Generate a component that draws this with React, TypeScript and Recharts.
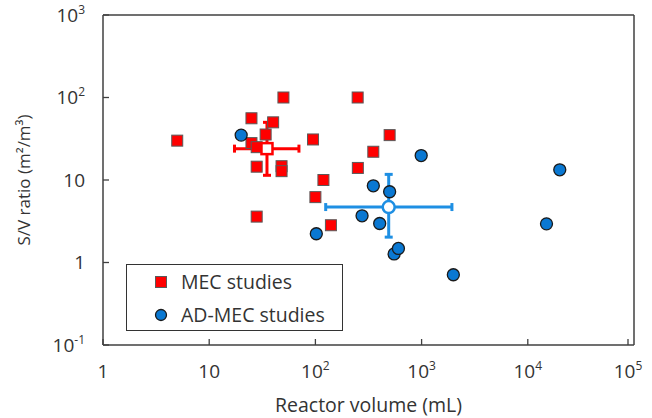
import {
  ScatterChart,
  Scatter,
  XAxis,
  YAxis,
  ErrorBar,
  Legend,
  ReferenceLine,
} from "recharts";

// MEC studies (reactor volume mL, S/V ratio m2/m3)
const mecVolume = [5, 25, 25, 28, 28, 28, 34, 40, 48, 48, 50, 95, 100, 119, 140, 250, 251, 351, 500];
const mecRatio = [30, 56, 28, 25, 14.5, 3.6, 35.6, 50, 14.7, 12.8, 100, 31, 6.2, 10, 2.83, 100, 14, 22, 35];

// AD-MEC studies
const admecVolume = [20, 102, 275, 351, 403, 500, 551, 605, 991, 1990, 15000, 20000];
const admecRatio = [35, 2.23, 3.68, 8.5, 2.97, 7.2, 1.27, 1.48, 19.8, 0.71, 2.94, 13.3];

// means with ranges (min, max)
const mecMean = { x: 35, y: 24, xLow: 17.3, xHigh: 70, yLow: 11.4, yHigh: 50 };
const admecMean = { x: 490, y: 4.7, xLow: 125, xHigh: 1930, yLow: 2.03, yHigh: 11.7 };

const xTicks = [1, 10, 100, 1000, 10000, 100000];
const yTicks = [0.1, 1, 10, 100, 1000];

const FONT = "'Open Sans', sans-serif";
const TEXT = "#333";
const AXIS = "#404040";
const RED = "#FF0000";
const BLUE = "#0A78D2";
const BLUE_BAR = "#1E8FE3";

const mecData = mecVolume.map((x, i) => ({ x, y: mecRatio[i] }));
const admecData = admecVolume.map((x, i) => ({ x, y: admecRatio[i] }));

const toMean = (m) => [
  {
    x: m.x,
    y: m.y,
    xErr: [m.x - m.xLow, m.xHigh - m.x],
    yErr: [m.y - m.yLow, m.yHigh - m.y],
  },
];

const powLabel = (v) => {
  const e = Math.round(Math.log10(v));
  if (e === 0) return { base: "1", sup: "" };
  if (e === 1) return { base: "10", sup: "" };
  return { base: "10", sup: String(e) };
};

const TICK_MARGIN = 18;

const YTick = ({ x, y, payload }) => {
  const { base, sup } = powLabel(payload.value);
  const ax = x + TICK_MARGIN;
  return (
    <g>
      <line x1={ax} x2={ax + 6} y1={y} y2={y} stroke={AXIS} strokeWidth={1.3} />
      <text x={x} y={y} dy={6.5} textAnchor="end" fill={TEXT} fontSize={19} fontFamily={FONT}>
        {base}
        {sup && (
          <tspan dy={-8} fontSize={12}>
            {sup}
          </tspan>
        )}
      </text>
    </g>
  );
};

const XTick = ({ x, y, payload }) => {
  const { base, sup } = powLabel(payload.value);
  const ay = y - TICK_MARGIN;
  return (
    <g>
      <line x1={x} x2={x} y1={ay} y2={ay - 6} stroke={AXIS} strokeWidth={1.3} />
      <text x={x} y={y} dy={15} textAnchor="middle" fill={TEXT} fontSize={19} fontFamily={FONT}>
        {base}
        {sup && (
          <tspan dy={-8} fontSize={12}>
            {sup}
          </tspan>
        )}
      </text>
    </g>
  );
};

const Square = ({ cx, cy }) => (
  <rect x={cx - 5.5} y={cy - 5.5} width={11} height={11} fill={RED} stroke="#5a5a5a" strokeWidth={1} />
);
const Dot = ({ cx, cy }) => (
  <circle cx={cx} cy={cy} r={6} fill={BLUE} stroke="#1a1a1a" strokeWidth={1.3} />
);
const OpenSquare = ({ cx, cy }) => (
  <rect x={cx - 5.5} y={cy - 5.5} width={11} height={11} fill="#fff" stroke={RED} strokeWidth={2.5} />
);
const OpenDot = ({ cx, cy }) => (
  <circle cx={cx} cy={cy} r={6} fill="#fff" stroke={BLUE_BAR} strokeWidth={2.5} />
);

const LegendBox = () => (
  <div
    style={{
      border: "1.5px solid #333",
      background: "#fff",
      boxSizing: "border-box",
      width: 217,
      height: 67,
      fontFamily: FONT,
      fontSize: 19.5,
      color: TEXT,
      padding: "3px 0 0 27px",
      lineHeight: "24px",
    }}
  >
    <div style={{ display: "flex", alignItems: "center", height: 28 }}>
      <svg width={14} height={14} style={{ marginRight: 13 }}>
        <rect x={1.5} y={1.5} width={11} height={11} fill={RED} stroke="#5a5a5a" strokeWidth={1} />
      </svg>
      MEC studies
    </div>
    <div style={{ display: "flex", alignItems: "center", height: 28, marginTop: 5 }}>
      <svg width={14} height={14} style={{ marginRight: 13 }}>
        <circle cx={7} cy={7} r={5.5} fill={BLUE} stroke="#1a1a1a" strokeWidth={1.3} />
      </svg>
      AD-MEC studies
    </div>
  </div>
);

const YLabel = ({ viewBox }) => {
  const cy = viewBox.y + viewBox.height / 2;
  const cx = 23;
  return (
    <text
      x={cx}
      y={cy}
      transform={`rotate(-90, ${cx}, ${cy})`}
      textAnchor="middle"
      dominantBaseline="central"
      fill={TEXT}
      fontSize={17}
      fontFamily={FONT}
    >
      S/V ratio (m²/m³)
    </text>
  );
};

const XLabel = ({ viewBox }) => {
  const cx = viewBox.x + viewBox.width / 2;
  return (
    <text x={cx} y={412} textAnchor="middle" fill={TEXT} fontSize={19.5} fontFamily={FONT}>
      Reactor volume (mL)
    </text>
  );
};

export default function App() {
  return (
    <div style={{ position: "absolute", left: 0, top: 0, background: "#fff" }}>
      <ScatterChart width={652} height={418} margin={{ top: 15, right: 18, left: 0, bottom: 0 }}>
        <XAxis
          dataKey="x"
          type="number"
          scale="log"
          domain={[1, 100000]}
          ticks={xTicks}
          allowDataOverflow
          height={73}
          tickLine={false}
          tickSize={0}
          tickMargin={TICK_MARGIN}
          tick={<XTick />}
          axisLine={{ stroke: AXIS, strokeWidth: 1.5 }}
          label={{ content: XLabel }}
        />
        <YAxis
          dataKey="y"
          type="number"
          scale="log"
          domain={[0.1, 1000]}
          ticks={yTicks}
          allowDataOverflow
          width={103}
          tickLine={false}
          tickSize={0}
          tickMargin={TICK_MARGIN}
          tick={<YTick />}
          axisLine={{ stroke: AXIS, strokeWidth: 1.5 }}
          label={{ content: YLabel }}
        />
        <ReferenceLine y={1000} stroke={AXIS} strokeWidth={1.5} />
        <ReferenceLine x={100000} stroke={AXIS} strokeWidth={1.5} />
        <Scatter name="MEC studies" data={mecData} shape={<Square />} isAnimationActive={false} />
        <Scatter name="AD-MEC studies" data={admecData} shape={<Dot />} isAnimationActive={false} />
        <Scatter data={toMean(mecMean)} shape={<OpenSquare />} legendType="none" isAnimationActive={false}>
          <ErrorBar dataKey="xErr" direction="x" stroke={RED} strokeWidth={3} width={4} isAnimationActive={false} />
          <ErrorBar dataKey="yErr" direction="y" stroke={RED} strokeWidth={3} width={4} isAnimationActive={false} />
        </Scatter>
        <Scatter data={toMean(admecMean)} shape={<OpenDot />} legendType="none" isAnimationActive={false}>
          <ErrorBar dataKey="xErr" direction="x" stroke={BLUE_BAR} strokeWidth={3} width={4} isAnimationActive={false} />
          <ErrorBar dataKey="yErr" direction="y" stroke={BLUE_BAR} strokeWidth={3} width={4} isAnimationActive={false} />
        </Scatter>
        <Legend
          layout="horizontal"
          verticalAlign="middle"
          align="center"
          content={<LegendBox />}
          wrapperStyle={{ left: 126, top: 264, width: 217, height: 67 }}
        />
      </ScatterChart>
    </div>
  );
}
